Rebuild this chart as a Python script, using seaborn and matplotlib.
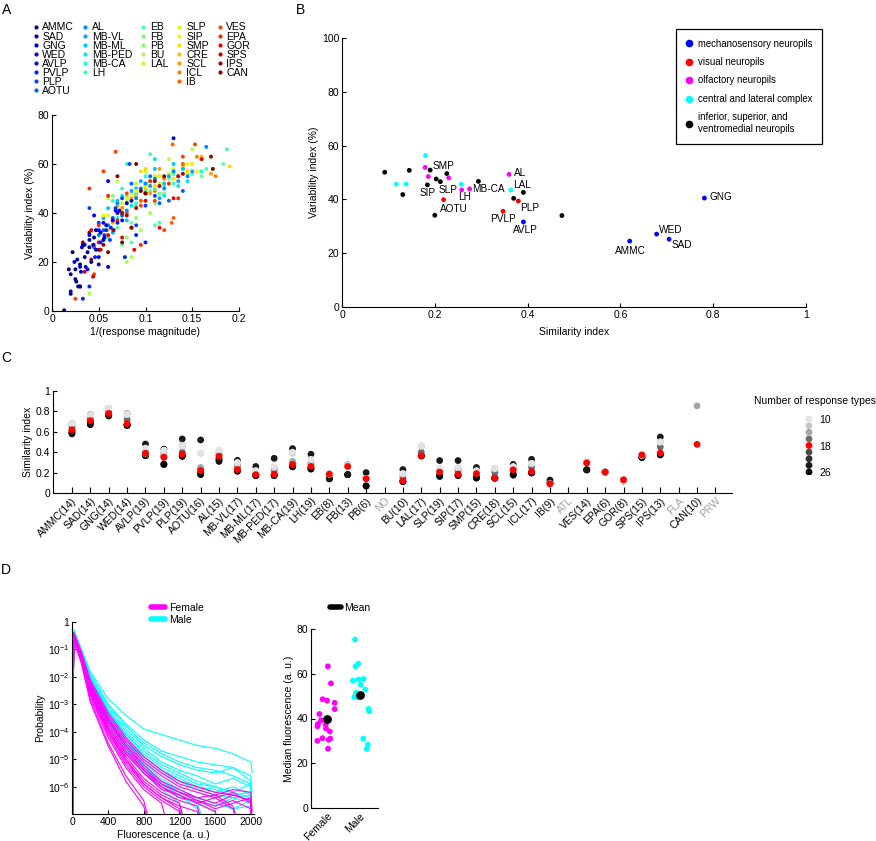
import numpy as np
import pandas as pd
import matplotlib
matplotlib.use('Agg')
import matplotlib.pyplot as plt
from matplotlib.lines import Line2D
import seaborn as sns

# ---------------- DATA ----------------
# Panel A: neuropil names (legend order) and scatter values
A_names = ['AMMC', 'SAD', 'GNG', 'WED', 'AVLP', 'PVLP', 'PLP', 'AOTU',
           'AL', 'MB-VL', 'MB-ML', 'MB-PED', 'MB-CA', 'LH',
           'EB', 'FB', 'PB', 'BU', 'LAL',
           'SLP', 'SIP', 'SMP', 'CRE', 'SCL', 'ICL', 'IB',
           'VES', 'EPA', 'GOR', 'SPS', 'IPS', 'CAN']
A_x = [
    [0.013, 0.02, 0.018, 0.025, 0.03, 0.022, 0.035, 0.04, 0.028, 0.045],
    [0.02, 0.025, 0.03, 0.033, 0.038, 0.042, 0.05, 0.027, 0.047, 0.055],
    [0.02, 0.026, 0.031, 0.036, 0.04, 0.047, 0.052, 0.058, 0.07, 0.13],
    [0.024, 0.032, 0.038, 0.044, 0.05, 0.056, 0.06, 0.065, 0.072, 0.08],
    [0.03, 0.035, 0.04, 0.045, 0.05, 0.055, 0.06, 0.068, 0.075, 0.085],
    [0.033, 0.04, 0.046, 0.052, 0.058, 0.063, 0.07, 0.078, 0.09, 0.1],
    [0.04, 0.05, 0.056, 0.062, 0.068, 0.075, 0.083, 0.09, 0.1, 0.11],
    [0.045, 0.055, 0.065, 0.075, 0.085, 0.095, 0.105, 0.115, 0.125, 0.14],
    [0.05, 0.06, 0.07, 0.08, 0.09, 0.1, 0.11, 0.12, 0.13, 0.145, 0.165],
    [0.055, 0.065, 0.075, 0.085, 0.095, 0.105, 0.115, 0.125, 0.135, 0.15],
    [0.06, 0.07, 0.08, 0.09, 0.1, 0.11, 0.12, 0.13, 0.14],
    [0.065, 0.075, 0.085, 0.095, 0.105, 0.11, 0.12, 0.135, 0.145],
    [0.06, 0.07, 0.08, 0.09, 0.1, 0.11, 0.125, 0.14, 0.16],
    [0.065, 0.075, 0.08, 0.09, 0.1, 0.105, 0.115, 0.13, 0.15, 0.187],
    [0.07, 0.085, 0.09, 0.1, 0.11, 0.12, 0.13, 0.165, 0.183],
    [0.075, 0.085, 0.095, 0.105, 0.115, 0.125, 0.14, 0.16],
    [0.065, 0.08, 0.09, 0.1, 0.11, 0.12, 0.145, 0.17],
    [0.04, 0.08, 0.085, 0.095, 0.105, 0.115, 0.13, 0.16],
    [0.06, 0.07, 0.08, 0.09, 0.1, 0.11, 0.125, 0.15],
    [0.06, 0.075, 0.085, 0.095, 0.105, 0.115, 0.13, 0.15],
    [0.055, 0.07, 0.08, 0.09, 0.1, 0.11, 0.125, 0.145, 0.155],
    [0.06, 0.075, 0.085, 0.095, 0.1, 0.11, 0.13, 0.145, 0.19],
    [0.065, 0.08, 0.09, 0.1, 0.11, 0.12, 0.14, 0.16],
    [0.07, 0.085, 0.095, 0.105, 0.115, 0.13, 0.15, 0.17],
    [0.075, 0.09, 0.1, 0.11, 0.12, 0.135, 0.155, 0.175],
    [0.045, 0.08, 0.095, 0.105, 0.115, 0.129, 0.13, 0.128, 0.14],
    [0.025, 0.045, 0.055, 0.068, 0.08, 0.095, 0.11, 0.12, 0.14, 0.153],
    [0.04, 0.05, 0.06, 0.07, 0.085, 0.095, 0.105, 0.125, 0.135],
    [0.035, 0.042, 0.05, 0.06, 0.075, 0.088, 0.1, 0.115, 0.13, 0.16],
    [0.03, 0.044, 0.052, 0.065, 0.075, 0.09, 0.1, 0.115, 0.135],
    [0.033, 0.042, 0.055, 0.066, 0.08, 0.095, 0.11, 0.14, 0.17],
    [0.04, 0.05, 0.06, 0.07, 0.075, 0.085, 0.09, 0.1, 0.12, 0.172],
]
A_y = [
    [0.3, 7, 17, 13, 19, 24, 22, 26, 10, 30],
    [15, 17, 10, 27, 24, 20, 19, 21, 33, 29],
    [8, 12, 16, 18, 29, 25, 32, 35, 40, 70.5],
    [20, 26, 17, 27, 22, 30, 18, 37, 41, 44],
    [18, 27, 31, 39, 33, 36, 53, 41, 37, 45],
    [5, 10, 22, 28, 33, 34, 36, 22, 31, 28],
    [42, 36, 31, 29, 42, 46, 60, 35, 43, 47],
    [26, 33, 38, 39, 52, 50, 55, 44, 45, 49],
    [31, 35, 44, 41, 46, 52, 54, 50, 57, 55, 67],
    [38, 32, 40, 49, 53, 51, 46, 55, 53, 57],
    [42, 45, 37, 50, 48, 58, 52, 60, 58],
    [33, 47, 43, 49, 53, 62, 47, 51, 53],
    [30, 38, 47, 44, 55, 50, 56, 60, 57],
    [45, 50, 60, 48, 52, 64, 36, 52, 56, 66],
    [34, 28, 43, 49, 35, 51, 56, 58, 60],
    [27, 36, 45, 49, 48, 54, 58, 55],
    [47, 30, 38, 51, 44, 48, 56, 63],
    [7, 20, 22, 33, 40, 52, 57, 62],
    [46, 53, 45, 52, 57, 55, 62, 66],
    [39, 44, 48, 50, 53, 55, 58, 60],
    [39, 44, 46, 49, 51, 54, 56, 60, 57],
    [33, 41, 45, 57, 58, 51, 54, 57, 59],
    [36, 44, 47, 50, 55, 52, 59, 63],
    [43, 46, 49, 48, 58, 56, 60, 56],
    [42, 47, 52, 49, 54, 55, 63, 55],
    [27, 40, 45, 51, 55, 68, 38, 36, 60],
    [5, 15, 57, 65, 48, 43, 45, 33, 63, 68],
    [50, 35, 47, 37, 34, 27, 53, 52, 46],
    [16, 33, 28, 31, 30, 25, 45, 34, 46, 62],
    [10, 14, 25, 37, 40, 42, 48, 51, 55],
    [28, 21, 27, 33, 39, 49, 53, 56, 63],
    [32, 25, 24, 55, 28, 34, 60, 48, 55, 58],
]

# Panel B: mean similarity / variability per neuropil
B_x = [0.092, 0.145, 0.117, 0.138, 0.131, 0.180, 0.179, 0.186, 0.190, 0.226,
       0.230, 0.184, 0.203, 0.212, 0.219, 0.200, 0.257, 0.258, 0.275, 0.294,
       0.360, 0.364, 0.391, 0.370, 0.380, 0.347, 0.391, 0.474, 0.781, 0.620,
       0.678, 0.705]
B_y = [50.1, 50.8, 45.7, 45.7, 41.8, 56.3, 51.9, 48.5, 50.9, 49.6,
       48.0, 45.4, 47.6, 46.6, 39.9, 34.1, 45.6, 43.5, 43.9, 46.7,
       49.3, 43.5, 42.6, 40.4, 39.4, 35.6, 31.6, 34.0, 40.5, 24.5,
       27.1, 25.2]
B_group = ['isv', 'isv', 'clc', 'clc', 'isv', 'clc', 'olf', 'olf', 'isv', 'isv',
           'olf', 'isv', 'isv', 'isv', 'vis', 'isv', 'clc', 'olf', 'olf', 'isv',
           'olf', 'clc', 'isv', 'isv', 'vis', 'vis', 'mech', 'isv', 'mech', 'mech',
           'mech', 'mech']
B_label = ['', '', '', '', '', '', '', '', 'SMP', '',
           '', 'SIP', '', 'SLP', 'AOTU', '', '', 'LH', 'MB-CA', '',
           'AL', 'LAL', '', '', 'PLP', 'PVLP', 'AVLP', '', 'GNG', 'AMMC',
           'WED', 'SAD']
B_groups = ['mech', 'vis', 'olf', 'clc', 'isv']
B_group_names = ['mechanosensory neuropils', 'visual neuropils', 'olfactory neuropils',
                 'central and lateral complex',
                 'inferior, superior, and\nventromedial neuropils']

# Panel C: similarity index per neuropil for 10..26 response types
C_names = ['AMMC', 'SAD', 'GNG', 'WED', 'AVLP', 'PVLP', 'PLP', 'AOTU', 'AL', 'MB-VL',
           'MB-ML', 'MB-PED', 'MB-CA', 'LH', 'EB', 'FB', 'PB', 'NO', 'BU', 'LAL',
           'SLP', 'SIP', 'SMP', 'CRE', 'SCL', 'ICL', 'IB', 'ATL', 'VES', 'EPA',
           'GOR', 'SPS', 'IPS', 'FLA', 'CAN', 'PRW']
C_counts = [14, 14, 14, 14, 19, 19, 19, 16, 15, 17, 17, 17, 19, 19, 8, 13, 6, None, 10, 17,
            19, 17, 15, 18, 15, 17, 9, None, 14, 6, 8, 15, 13, None, 10, None]
C_levels = [10, 12, 14, 16, 18, 20, 22, 24, 26]
N = np.nan
C_similarity = [
    [0.68, 0.68, 0.68, 0.65, 0.62, 0.61, 0.60, 0.59, 0.58],
    [0.76, 0.77, 0.77, 0.73, 0.71, 0.70, 0.69, 0.68, 0.67],
    [0.83, 0.83, 0.83, 0.80, 0.78, 0.77, 0.76, 0.76, 0.755],
    [0.77, 0.77, 0.78, 0.72, 0.68, 0.67, 0.67, 0.665, 0.66],
    [0.44, 0.42, 0.40, 0.38, 0.39, 0.37, 0.37, 0.48, 0.365],
    [0.42, 0.40, 0.38, 0.36, 0.35, 0.285, 0.28, 0.43, 0.28],
    [0.46, 0.47, 0.46, 0.40, 0.38, 0.37, 0.36, 0.53, 0.36],
    [0.39, 0.39, 0.25, 0.24, 0.22, 0.20, 0.19, 0.52, 0.18],
    [0.42, 0.41, 0.40, 0.38, 0.36, 0.34, 0.33, 0.32, 0.31],
    [0.30, 0.29, 0.28, 0.26, 0.23, 0.22, 0.215, 0.32, 0.214],
    [0.22, 0.21, 0.20, 0.19, 0.18, 0.175, 0.17, 0.26, 0.17],
    [0.26, 0.25, 0.24, 0.22, 0.185, 0.18, 0.175, 0.34, 0.17],
    [0.40, 0.39, 0.31, 0.30, 0.28, 0.27, 0.26, 0.435, 0.256],
    [0.33, 0.31, 0.29, 0.28, 0.26, 0.25, 0.24, 0.38, 0.234],
    [0.185, 0.185, 0.185, 0.185, 0.185, 0.14, 0.14, 0.14, 0.14],
    [0.27, 0.27, 0.28, 0.27, 0.26, 0.18, 0.18, 0.18, 0.18],
    [0.14, 0.14, 0.14, 0.14, 0.14, 0.07, 0.07, 0.20, 0.068],
    [N, N, N, N, N, N, N, N, N],
    [0.19, 0.19, 0.18, 0.15, 0.12, 0.115, 0.115, 0.23, 0.11],
    [0.46, 0.46, 0.46, 0.40, 0.365, 0.365, 0.365, 0.365, 0.365],
    [0.24, 0.235, 0.227, 0.22, 0.205, 0.18, 0.17, 0.318, 0.162],
    [0.25, 0.245, 0.24, 0.22, 0.185, 0.18, 0.175, 0.318, 0.17],
    [0.22, 0.21, 0.205, 0.20, 0.19, 0.16, 0.15, 0.25, 0.146],
    [0.24, 0.24, 0.235, 0.20, 0.146, 0.146, 0.146, 0.146, 0.146],
    [0.26, 0.25, 0.24, 0.235, 0.227, 0.19, 0.18, 0.28, 0.175],
    [0.29, 0.29, 0.286, 0.25, 0.21, 0.20, 0.20, 0.33, 0.195],
    [0.09, 0.09, 0.09, 0.09, 0.09, 0.10, 0.10, 0.127, 0.10],
    [N, N, N, N, N, N, N, N, N],
    [0.31, 0.31, 0.30, 0.30, 0.295, 0.227, 0.227, 0.227, 0.227],
    [0.205, 0.205, 0.205, 0.205, 0.205, 0.205, 0.205, 0.205, 0.205],
    [0.12, 0.12, 0.12, 0.12, 0.13, 0.12, 0.12, 0.12, 0.12],
    [0.37, 0.37, 0.37, 0.37, 0.373, 0.35, 0.35, 0.35, 0.347],
    [0.50, 0.50, 0.50, 0.45, 0.393, 0.38, 0.375, 0.549, 0.373],
    [N, N, N, N, N, N, N, N, N],
    [N, N, 0.854, N, 0.477, N, N, N, N],
    [N, N, N, N, N, N, N, N, N],
]

# Panel D left: fluorescence histograms (log10 probability at D_x)
D_x = [0, 15, 100, 200, 400, 600, 800, 1000, 1200, 1400, 1600, 1800, 2000, 2015]
D_female = [
    [-9, -0.4, -1.1, -2.1, -3.3, -4.2, -4.9, -5.4, -5.8, -6.0, -6.2, -6.3, -6.5, -9],
    [-9, -0.5, -1.2, -2.3, -3.5, -4.4, -5.1, -5.6, -6.0, -6.2, -6.4, -6.2, -6.6, -9],
    [-9, -0.5, -1.2, -2.4, -3.6, -4.5, -5.2, -5.8, -6.1, -6.4, -6.3, -6.7, -9, N],
    [-9, -0.6, -1.3, -2.5, -3.8, -4.8, -5.5, -6.0, -6.3, -6.6, -6.9, -9, N, N],
    [-9, -0.5, -1.3, -2.6, -4.0, -5.0, -5.8, -6.3, -6.6, -9, N, N, N, N],
    [-9, -0.6, -1.4, -2.7, -4.2, -5.3, -6.1, -6.6, -9, N, N, N, N, N],
    [-9, -0.4, -1.2, -2.3, -3.6, -4.6, -5.4, -6.0, -6.4, -6.5, -6.8, -6.6, -6.4, -9],
    [-9, -0.6, -1.4, -2.8, -4.4, -5.6, -6.5, -9, N, N, N, N, N, N],
    [-9, -0.5, -1.3, -2.5, -3.9, -4.9, -5.7, -6.2, -6.5, -6.7, -9, N, N, N],
    [-9, -0.5, -1.2, -2.2, -3.4, -4.3, -5.0, -5.5, -5.9, -6.1, -6.3, -6.1, -6.2, -6.9],
    [-9, -0.7, -1.5, -2.9, -4.5, -5.8, -6.7, -9, N, N, N, N, N, N],
    [-9, -0.5, -1.3, -2.4, -3.8, -4.8, -5.5, -6.1, -6.3, -6.6, -6.4, -6.8, -9, N],
    [-9, -0.6, -1.3, -2.5, -3.9, -5.0, -5.9, -6.4, -6.8, -9, N, N, N, N],
    [-9, -0.4, -1.1, -2.2, -3.5, -4.5, -5.3, -5.9, -6.2, -6.4, -6.6, -6.3, -6.5, -9],
    [-9, -0.5, -1.3, -2.6, -4.1, -5.2, -6.0, -6.5, -6.9, -9, N, N, N, N],
    [-9, -0.6, -1.4, -2.6, -4.0, -5.1, -5.9, -6.4, -6.7, -6.9, -9, N, N, N],
    [-9, -0.5, -1.2, -2.3, -3.7, -4.7, -5.4, -5.9, -6.2, -6.5, -6.7, -6.5, -6.8, -9],
]
D_male = [
    [-9, -0.3, -1.0, -1.8, -2.8, -3.4, -3.9, -4.1, -4.3, -4.5, -4.6, -4.8, -5.1, -5.5],
    [-9, -0.3, -1.0, -1.9, -3.0, -3.7, -4.3, -4.7, -4.9, -5.1, -5.2, -5.3, -5.6, -9],
    [-9, -0.4, -1.1, -2.0, -3.1, -3.9, -4.5, -4.9, -5.2, -5.4, -5.5, -5.3, -5.8, -9],
    [-9, -0.4, -1.1, -2.0, -3.2, -4.0, -4.6, -5.1, -5.4, -5.6, -5.9, -5.7, -6.0, -9],
    [-9, -0.4, -1.1, -2.1, -3.3, -4.1, -4.8, -5.3, -5.6, -5.9, -6.0, -6.2, -5.9, -9],
    [-9, -0.4, -1.2, -2.2, -3.4, -4.3, -5.0, -5.5, -5.8, -6.1, -6.3, -6.4, -6.3, -9],
    [-9, -0.5, -1.2, -2.2, -3.5, -4.4, -5.2, -5.8, -6.2, -6.5, -6.7, -6.4, -6.6, -9],
    [-9, -0.5, -1.2, -2.3, -3.6, -4.5, -5.3, -5.9, -6.3, -6.8, -9, N, N, N],
    [-9, -0.4, -1.1, -2.1, -3.3, -4.2, -4.9, -5.4, -5.7, -6.0, -6.1, -6.3, -6.2, -9],
    [-9, -0.5, -1.3, -2.4, -3.7, -4.7, -5.5, -6.1, -6.6, -9, N, N, N, N],
    [-9, -0.4, -1.2, -2.2, -3.4, -4.3, -4.9, -5.4, -5.8, -6.0, -6.2, -6.0, -6.3, -9],
    [-9, -0.3, -1.0, -1.9, -3.0, -3.8, -4.4, -4.8, -5.1, -5.3, -5.4, -5.6, -5.9, -6.2],
    [-9, -0.5, -1.2, -2.3, -3.6, -4.6, -5.4, -6.0, -6.4, -6.6, -6.9, -9, N, N],
    [-9, -0.4, -1.1, -2.1, -3.4, -4.3, -5.1, -5.7, -6.1, -6.4, -6.6, -6.8, -6.5, -9],
    [-9, -0.5, -1.3, -2.3, -3.6, -4.6, -5.3, -5.8, -6.2, -6.5, -9, N, N, N],
    [-9, -0.4, -1.1, -2.0, -3.2, -4.1, -4.7, -5.2, -5.5, -5.8, -6.0, -6.2, -6.4, -9],
    [-9, -0.5, -1.2, -2.2, -3.5, -4.5, -5.2, -5.8, -6.2, -6.4, -6.6, -6.8, -6.7, -9],
]

# Panel D right: median fluorescence per fly
D_med_female = [63.3, 55.7, 48.6, 48.0, 47.0, 44.2, 42.0, 39.2, 37.5, 37.2, 36.5, 35.5,
                34.2, 31.2, 31.0, 30.5, 30.0, 26.5]
D_med_male = [75.3, 64.5, 63.3, 57.7, 57.4, 56.9, 55.1, 52.9, 51.5, 49.6, 49.5, 44.3,
              43.2, 31.0, 28.3, 26.4]

# ---------------- STYLE ----------------
sns.set_theme(style='ticks')
plt.rcParams['font.family'] = ['Liberation Sans', 'DejaVu Sans']
plt.rcParams.update({
    'font.size': 7.5, 'axes.labelsize': 7.5, 'xtick.labelsize': 7.5, 'ytick.labelsize': 7.5,
    'xtick.direction': 'in', 'ytick.direction': 'in',
    'xtick.major.size': 3, 'ytick.major.size': 3,
    'xtick.major.pad': 2, 'ytick.major.pad': 2,
    'axes.linewidth': 0.8, 'xtick.major.width': 0.8, 'ytick.major.width': 0.8,
    'mathtext.default': 'regular', 'axes.edgecolor': 'black',
    'xtick.color': 'black', 'ytick.color': 'black', 'text.color': 'black',
    'axes.labelcolor': 'black', 'axes.labelpad': 2,
})

W, H = 876, 841
fig = plt.figure(figsize=(W / 100, H / 100), dpi=100)


def ax_px(x0, y0, x1, y1):
    return fig.add_axes([x0 / W, 1 - y1 / H, (x1 - x0) / W, (y1 - y0) / H])


def letter(x, y, s):
    fig.text(x / W, 1 - y / H, s, fontsize=10, va='top', ha='left')


# ---------------- PANEL A ----------------
axA = ax_px(52, 115, 239, 311)
jet = plt.get_cmap('jet')
A_colors = [jet(i / (len(A_names) - 1)) for i in range(len(A_names))]
rows = []
for k, name in enumerate(A_names):
    for j, (xv, yv) in enumerate(zip(A_x[k], A_y[k])):
        rows.append((name, xv, yv, j, k))
dfA = pd.DataFrame(rows, columns=['neuropil', 'x', 'y', 'j', 'k']).sort_values(['j', 'k'])
sns.scatterplot(data=dfA, x='x', y='y', hue='neuropil', hue_order=A_names,
                palette=A_colors, s=8, linewidth=0, legend=False, ax=axA)
axA.set_xlim(0, 0.2)
axA.set_ylim(0, 80)
axA.set_xticks([0, 0.05, 0.1, 0.15, 0.2], ['0', '0.05', '0.1', '0.15', '0.2'])
axA.set_yticks([0, 20, 40, 60, 80], ['0', '20', '40', '60', '80'])
axA.set_xlabel('1/(response magnitude)')
axA.set_ylabel('Variability index (%)')
sns.despine(ax=axA)

col_sizes = [8, 6, 5, 7, 6]
handles, labels = [], []
idx = 0
for cs in col_sizes:
    for r in range(8):
        if r < cs:
            handles.append(Line2D([0], [0], marker='o', ls='none', color=A_colors[idx],
                                  markersize=3, markeredgewidth=0))
            labels.append(A_names[idx])
            idx += 1
        else:
            handles.append(Line2D([], [], ls='none'))
            labels.append('')
fig.legend(handles, labels, ncol=5, loc='upper left', bbox_to_anchor=(33 / W, 1 - 22.5 / H),
           frameon=False, borderpad=0, borderaxespad=0, handlelength=0.5,
           handletextpad=0.4, columnspacing=0.8, labelspacing=-0.09, fontsize=7.5)
letter(2, 3, 'A')

# ---------------- PANEL B ----------------
axB = ax_px(342, 38, 806, 307)
B_pal = {'mech': '#0000ff', 'vis': '#ff0000', 'olf': '#ff00ff', 'clc': '#00ffff', 'isv': '#000000'}
dfB = pd.DataFrame({'x': B_x, 'y': B_y, 'group': B_group, 'label': B_label})
sns.scatterplot(data=dfB, x='x', y='y', hue='group', palette=B_pal, s=12, linewidth=0,
                legend=False, ax=axB)
B_offsets = {'SMP': (13, 4), 'SIP': (0, -8), 'SLP': (8, -8), 'AOTU': (10, -9),
             'LH': (3, -7.5), 'MB-CA': (19, 0), 'AL': (11, 1), 'LAL': (11, 4.5),
             'PLP': (11, -7), 'PVLP': (0, -7.5), 'AVLP': (2, -8), 'GNG': (16, 1),
             'AMMC': (1, -9.5), 'WED': (14, 4), 'SAD': (13, -5.5)}
for xv, yv, lab in zip(B_x, B_y, B_label):
    if lab:
        dx, dy = B_offsets[lab]
        axB.annotate(lab, (xv, yv), xytext=(dx * 0.72, dy * 0.72), textcoords='offset points',
                     ha='center', va='center', fontsize=7.2)
axB.set_xlim(0, 1)
axB.set_ylim(0, 100)
axB.set_xticks([0, 0.2, 0.4, 0.6, 0.8, 1], ['0', '0.2', '0.4', '0.6', '0.8', '1'])
axB.set_yticks([0, 20, 40, 60, 80, 100], ['0', '20', '40', '60', '80', '100'])
axB.set_xlabel('Similarity index', labelpad=5)
axB.set_ylabel('Variability index (%)')
sns.despine(ax=axB)
hB = [Line2D([0], [0], marker='o', ls='none', color=B_pal[g], markersize=5.5, markeredgewidth=0)
      for g in B_groups]
legB = axB.legend(hB, B_group_names, loc='upper right', bbox_to_anchor=(822 / W, 1 - 29 / H),
                  bbox_transform=fig.transFigure, frameon=True, fancybox=False,
                  edgecolor='black', framealpha=1, borderpad=1.0, borderaxespad=0,
                  labelspacing=0.88, handlelength=0.8, handletextpad=0.5, fontsize=6.9)
legB.get_frame().set_linewidth(0.9)
letter(296, 3, 'B')

# ---------------- PANEL C ----------------
axC = ax_px(53, 391, 732, 493)
C_colors = {10: '#e3e3e3', 12: '#c6c6c6', 14: '#a5a5a5', 16: '#6e6e6e', 18: '#ff0000',
            20: '#4a4a4a', 22: '#303030', 24: '#1a1a1a', 26: '#000000'}
draw_order = [20, 22, 26, 24, 16, 14, 12, 10, 18]
rows = []
for i, name in enumerate(C_names):
    for li, lev in enumerate(C_levels):
        v = C_similarity[i][li]
        if not np.isnan(v):
            rows.append((i, v, lev, draw_order.index(lev)))
dfC = pd.DataFrame(rows, columns=['pos', 'sim', 'level', 'order']).sort_values(['order', 'pos'])
sns.scatterplot(data=dfC, x='pos', y='sim', hue='level', palette=C_colors, s=24,
                linewidth=0, legend=False, ax=axC)
axC.set_xlim(-1.03, 35.9)
axC.set_ylim(0, 1)
axC.set_yticks([0, 0.2, 0.4, 0.6, 0.8, 1], ['0', '0.2', '0.4', '0.6', '0.8', '1'])
C_ticklabels = [f'{n}({c})' if c is not None else n for n, c in zip(C_names, C_counts)]
axC.set_xticks(range(len(C_names)))
axC.set_xticklabels(C_ticklabels, rotation=45, ha='right', rotation_mode='anchor')
for tl, c in zip(axC.get_xticklabels(), C_counts):
    if c is None:
        tl.set_color('#a0a0a0')
axC.tick_params(axis='x', length=4.5)
axC.set_xlabel('')
axC.set_ylabel('Similarity index')
sns.despine(ax=axC)

axCl = ax_px(800, 415.7, 818, 475.3)
dfCl = pd.DataFrame({'x': [0] * len(C_levels), 'lev': C_levels,
                     'order': [draw_order.index(l) for l in C_levels]}).sort_values('order')
sns.scatterplot(data=dfCl, x='x', y='lev', hue='lev', palette=C_colors, s=24, linewidth=0,
                legend=False, ax=axCl)
axCl.set_xlim(-1, 1)
axCl.set_ylim(27, 9)
axCl.set_xticks([])
axCl.yaxis.tick_right()
axCl.set_yticks([10, 18, 26], ['10', '18', '26'])
axCl.tick_params(axis='y', length=0, pad=1)
axCl.set_xlabel('')
axCl.set_ylabel('')
for s in axCl.spines.values():
    s.set_visible(False)
axCl.patch.set_alpha(0)
fig.text(815 / W, 1 - 401 / H, 'Number of response types', ha='center', va='center', fontsize=7.5)
letter(1, 351, 'C')

# ---------------- PANEL D (left) ----------------
axD = ax_px(72.3, 621.7, 253.5, 814.3)
rows = []
for sex, curves in (('Male', D_male), ('Female', D_female)):
    for ci, cv in enumerate(curves):
        for xv, lv in zip(D_x, cv):
            if not np.isnan(lv):
                rows.append((sex, f'{sex}{ci}', xv, 10.0 ** lv))
dfD = pd.DataFrame(rows, columns=['sex', 'fly', 'x', 'p'])
sns.lineplot(data=dfD, x='x', y='p', hue='sex', units='fly', estimator=None,
             hue_order=['Male', 'Female'], palette={'Male': '#00ffff', 'Female': '#ff00ff'},
             linewidth=0.8, legend=False, sort=False, ax=axD)
axD.set_yscale('log')
axD.set_ylim(1e-7, 1)
axD.set_xlim(0, 2030)
axD.set_xticks([0, 400, 800, 1200, 1600, 2000], ['0', '400', '800', '1200', '1600', '2000'])
axD.set_yticks([1e-6, 1e-5, 1e-4, 1e-3, 1e-2, 1e-1, 1],
               ['$10^{-6}$', '$10^{-5}$', '$10^{-4}$', '$10^{-3}$', '$10^{-2}$', '$10^{-1}$', '1'])
axD.minorticks_off()
axD.set_xlabel('Fluorescence (a. u.)')
axD.set_ylabel('Probability')
sns.despine(ax=axD)
hD = [Line2D([0], [0], color='#ff00ff', lw=4), Line2D([0], [0], color='#00ffff', lw=4)]
fig.legend(hD, ['Female', 'Male'], loc='upper left', bbox_to_anchor=(151 / W, 1 - 603 / H),
           frameon=False, borderpad=0, borderaxespad=0, handlelength=1.35, handletextpad=0.35,
           labelspacing=0.15, fontsize=7.5)
letter(1, 563, 'D')

# ---------------- PANEL D (right) ----------------
axM = ax_px(311, 629, 378, 808)
dfM = pd.DataFrame({'sex': ['Female'] * len(D_med_female) + ['Male'] * len(D_med_male),
                    'med': D_med_female + D_med_male})
np.random.seed(3)
sns.stripplot(data=dfM, x='sex', y='med', hue='sex', order=['Female', 'Male'],
              palette={'Female': '#ff00ff', 'Male': '#00ffff'}, size=4.2, jitter=0.3,
              linewidth=0, legend=False, ax=axM)
means = dfM.groupby('sex', sort=False)['med'].mean().reindex(['Female', 'Male'])
sns.scatterplot(x=[0, 1], y=means.values, color='black', s=40, linewidth=0, ax=axM, zorder=5)
axM.set_xlim(-0.48, 1.55)
axM.set_ylim(0, 80)
axM.set_yticks([0, 20, 40, 60, 80], ['0', '20', '40', '60', '80'])
axM.set_xticks([0, 1], ['Female', 'Male'])
plt.setp(axM.get_xticklabels(), rotation=45, ha='right', rotation_mode='anchor')
axM.tick_params(axis='x', length=0)
axM.set_xlabel('')
axM.set_ylabel('Median fluorescence (a. u.)')
sns.despine(ax=axM)
fig.legend([Line2D([0], [0], color='black', lw=4)], ['Mean'], loc='upper left',
           bbox_to_anchor=(330 / W, 1 - 603 / H), frameon=False, borderpad=0, borderaxespad=0,
           handlelength=1.05, handletextpad=0.35, fontsize=7.5)

fig.savefig('out.png', dpi=100)
